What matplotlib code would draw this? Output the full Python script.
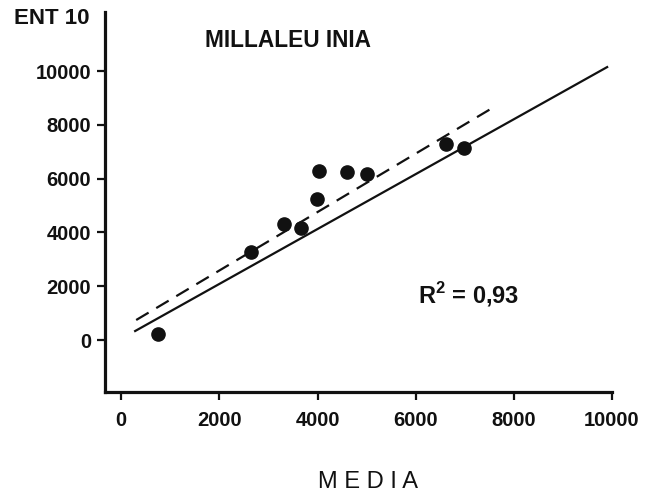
import matplotlib.pyplot as plt

plt.rcParams['font.family'] = ['Liberation Sans', 'DejaVu Sans']
plt.rcParams['mathtext.fontset'] = 'custom'
plt.rcParams['mathtext.rm'] = 'Liberation Sans'
plt.rcParams['mathtext.bf'] = 'Liberation Sans:bold'

# Data
media = [755, 2650, 3310, 3670, 3980, 4040, 4610, 5000, 6610, 6980]
ent10 = [220, 3270, 4310, 4160, 5240, 6280, 6250, 6170, 7290, 7140]

# fitted line (solid) and dashed line, end points
solid_x = [285, 9900]
solid_y = [335, 10150]
dash_x = [306, 7590]
dash_y = [744, 8660]

ticks = [0, 2000, 4000, 6000, 8000, 10000]

fig = plt.figure(figsize=(6.56, 4.98), dpi=100)
ax = fig.add_axes([0.160, 0.213, 0.773, 0.763])

ax.plot(solid_x, solid_y, color='#111111', lw=1.6)
ax.plot(dash_x, dash_y, color='#111111', lw=1.6, linestyle=(0, (6.5, 4)))
ax.plot(media, ent10, 'o', color='#111111', markersize=9.5)

ax.set_xlim(-330, 10000)
ax.set_ylim(-1930, 12200)
ax.set_xticks(ticks)
ax.set_yticks(ticks)

for s in ['top', 'right']:
    ax.spines[s].set_visible(False)
for s in ['left', 'bottom']:
    ax.spines[s].set_linewidth(2.3)
    ax.spines[s].set_color('#111111')

ax.tick_params(direction='out', length=6, width=1.6, color='#111111')
ax.tick_params(axis='x', pad=8)
ax.tick_params(axis='y', pad=4)
for lab in ax.get_xticklabels() + ax.get_yticklabels():
    lab.set_fontsize(14.5)
    lab.set_fontweight('bold')
    lab.set_color('#111111')

# Labels
fig.text(0.021, 0.963, 'ENT 10', fontsize=16, fontweight='bold', color='#111111', va='center')
ax.text(0.197, 0.924, 'MILLALEU INIA', transform=ax.transAxes, fontsize=16.3,
        fontweight='bold', color='#111111', va='center')
ax.text(0.617, 0.255, r'$\mathbf{R}^{\mathbf{2}}$ = 0,93', transform=ax.transAxes,
        fontsize=17, fontweight='bold', color='#111111', va='center')
fig.text(0.561, 0.032, 'M E D I A', fontsize=17, color='#111111', ha='center', va='center')

fig.savefig('out.png', dpi=100)
